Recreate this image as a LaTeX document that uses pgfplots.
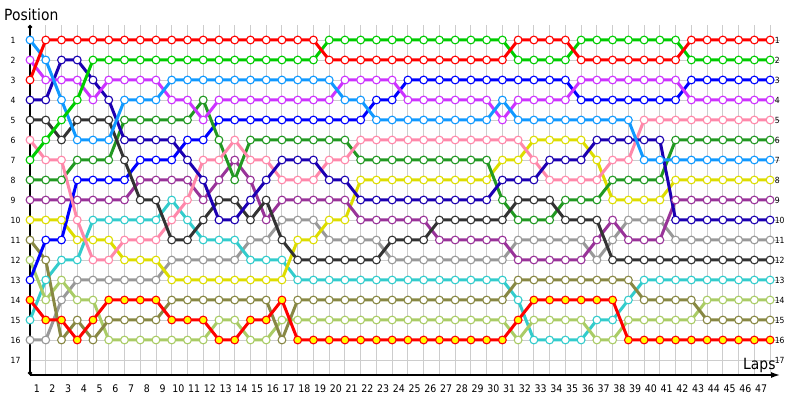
\documentclass[border=0pt]{standalone}
\usepackage{pgfplots}
\pgfplotsset{compat=1.18}
\usepackage{pgfplotstable}
\usepackage{fontspec}
\setmainfont{DejaVu Sans}[FakeStretch=0.9]
\usetikzlibrary{arrows.meta}

\definecolor{cR}{RGB}{255,0,0}
\definecolor{cBG}{RGB}{0,204,0}
\definecolor{cLB}{RGB}{17,153,255}
\definecolor{cVI}{RGB}{204,51,255}
\definecolor{cDB}{RGB}{28,0,178}
\definecolor{cBL}{RGB}{0,0,255}
\definecolor{cDG}{RGB}{51,51,51}
\definecolor{cPK}{RGB}{255,136,170}
\definecolor{cFG}{RGB}{34,153,34}
\definecolor{cPU}{RGB}{153,51,153}
\definecolor{cYE}{RGB}{221,221,0}
\definecolor{cOL}{RGB}{136,136,68}
\definecolor{cLG}{RGB}{170,204,102}
\definecolor{cCY}{RGB}{51,204,204}
\definecolor{cGR}{RGB}{153,153,153}
\definecolor{cYF}{RGB}{255,255,0}
\definecolor{gridc}{RGB}{205,205,205}

% position of every driver after each lap (lap 0 = grid)
\pgfplotstableread{
lap R BG LB VI DB DG PK FG PU YE OL LG BL CY GR RY
0 3 7 1 2 4 5 6 8 9 10 11 12 13 15 16 14
1 1 6 2 3 4 5 7 8 9 10 12 14 11 13 16 15
2 1 5 4 3 2 6 7 8 9 10 16 13 11 12 14 15
3 1 4 6 3 2 5 10 7 9 11 15 14 8 12 13 16
4 1 2 6 4 3 5 12 7 9 11 16 14 8 10 13 15
5 1 2 6 3 4 5 12 7 9 11 15 16 8 10 13 14
6 1 2 4 3 6 7 11 5 9 12 15 16 8 10 13 14
7 1 2 4 3 6 9 11 5 8 12 15 16 7 10 13 14
8 1 2 4 3 6 9 11 5 8 12 15 16 7 10 13 14
9 1 2 3 4 6 11 10 5 8 13 14 16 7 9 12 15
10 1 2 3 4 7 11 9 5 8 13 14 16 6 10 12 15
11 1 2 3 5 8 10 7 4 9 13 14 16 6 11 12 15
12 1 2 3 4 10 9 7 6 8 13 14 15 5 11 12 16
13 1 2 3 4 10 9 6 8 7 13 14 15 5 11 12 16
14 1 2 3 4 9 10 7 6 8 13 14 16 5 12 11 15
15 1 2 3 4 8 9 7 6 10 13 14 16 5 12 11 15
16 1 2 3 4 7 11 8 6 9 13 16 15 5 12 10 14
17 1 2 3 4 7 12 8 6 9 11 14 15 5 13 10 16
18 1 2 3 4 7 12 8 6 9 11 14 15 5 13 10 16
19 2 1 3 4 8 12 7 6 9 10 14 15 5 13 11 16
20 2 1 4 3 8 12 7 6 9 10 14 15 5 13 11 16
21 2 1 4 3 9 12 6 7 10 8 14 15 5 13 11 16
22 2 1 5 3 9 12 6 7 10 8 14 15 4 13 11 16
23 2 1 5 3 9 11 6 7 10 8 14 15 4 13 12 16
24 2 1 5 4 9 11 6 7 10 8 14 15 3 13 12 16
25 2 1 5 4 9 11 6 7 10 8 14 15 3 13 12 16
26 2 1 5 4 9 10 6 7 11 8 14 15 3 13 12 16
27 2 1 5 4 9 10 6 7 11 8 14 15 3 13 12 16
28 2 1 5 4 9 10 6 7 11 8 14 15 3 13 12 16
29 2 1 5 4 9 10 6 7 11 8 14 15 3 13 12 16
30 2 1 4 5 8 10 6 9 11 7 14 15 3 13 12 16
31 1 2 5 4 8 9 6 10 12 7 13 16 3 14 11 15
32 1 2 5 4 8 9 7 10 12 6 13 15 3 16 11 14
33 1 2 5 4 7 9 8 10 12 6 13 15 3 16 11 14
34 1 2 5 4 7 10 8 9 12 6 13 15 3 16 11 14
35 2 1 5 3 7 10 8 9 12 6 13 15 4 16 11 14
36 2 1 5 3 6 10 8 9 11 7 13 16 4 15 12 14
37 2 1 5 3 6 12 7 8 10 9 13 16 4 15 11 14
38 2 1 5 3 6 12 7 8 11 9 13 15 4 14 10 16
39 2 1 7 3 6 12 5 8 11 9 14 15 4 13 10 16
40 2 1 7 3 6 12 5 8 11 9 14 15 4 13 10 16
41 2 1 7 3 10 12 5 6 9 8 14 15 4 13 11 16
42 1 2 7 4 10 12 5 6 9 8 14 15 3 13 11 16
43 1 2 7 4 10 12 5 6 9 8 15 14 3 13 11 16
44 1 2 7 4 10 12 5 6 9 8 15 14 3 13 11 16
45 1 2 7 4 10 12 5 6 9 8 15 14 3 13 11 16
46 1 2 7 4 10 12 5 6 9 8 15 14 3 13 11 16
47 1 2 7 4 10 12 5 6 9 8 15 14 3 13 11 16
}\racetab

% one driver: line colour, column, marker fill
\newcommand{\driver}[3][white]{%
  \addplot[draw=#2, line width=3bp, mark=*, mark size=3.9bp,
    mark options={draw=#2, fill=#1, line width=1.1bp}]
    table[x=lap, y expr=-\thisrow{#3}] {\racetab};}

\begin{document}
\begin{tikzpicture}
\path[use as bounding box] (0,0) rectangle (800bp,400bp);
\begin{axis}[
  at={(30bp,25bp)}, anchor=south west,
  scale only axis, width=750bp, height=350bp,
  xmin=0, xmax=47.63, ymin=-17.75, ymax=-0.25,
  clip=false,
  axis x line=bottom, axis y line=left,
  x axis line style={line width=1.4bp, -{Latex[length=9bp,width=6bp]}},
  y axis line style={line width=1.4bp, {Circle[length=4bp]}-{Circle[length=4bp]}},
  xtick={1,...,47},
  ytick={-17,...,-1},
  yticklabels={17,16,15,14,13,12,11,10,9,8,7,6,5,4,3,2,1},
  major tick length=0pt,
  grid=major,
  grid style={draw=gridc, line width=0.9bp},
  /pgf/number format/assume math mode=true,
  xticklabel style={font=\fontsize{10.5}{12}\selectfont, anchor=north, xshift=-9bp, yshift=-6bp},
  yticklabel style={font=\fontsize{8.5}{10}\selectfont, anchor=west, inner sep=0pt, xshift=-19.5bp},
]
\driver{cGR}{GR}
\driver{cCY}{CY}
\driver{cLG}{LG}
\driver{cOL}{OL}
\driver[cYF]{cR}{RY}
\driver{cYE}{YE}
\driver{cPU}{PU}
\driver{cBL}{BL}
\driver{cFG}{FG}
\driver{cPK}{PK}
\driver{cDG}{DG}
\driver{cDB}{DB}
\driver{cVI}{VI}
\driver{cLB}{LB}
\driver{cBG}{BG}
\driver{cR}{R}
\pgfplotsinvokeforeach{1,...,17}{
  \node[anchor=west, inner sep=0pt, xshift=4.5bp, font=\fontsize{8.5}{10}\selectfont] at (axis cs:47,-#1) {#1};
}
\end{axis}
\node[anchor=base west, inner sep=0pt, font=\fontsize{15.5}{18}\selectfont] at (4bp,379.5bp) {Position};
\node[anchor=base west, inner sep=0pt, font=\fontsize{15.5}{18}\selectfont] at (743bp,30.5bp) {Laps};
\end{tikzpicture}
\end{document}
